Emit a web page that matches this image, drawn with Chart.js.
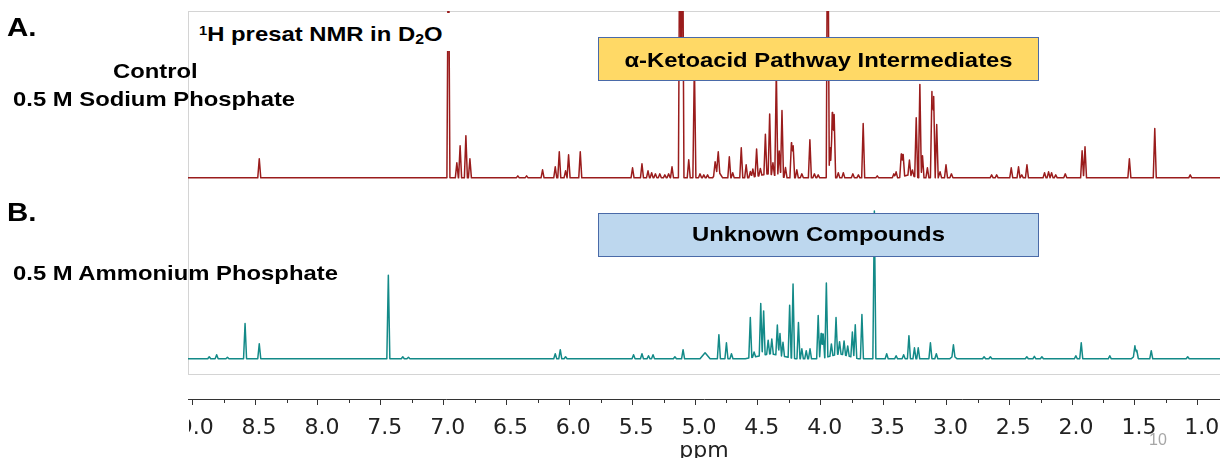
<!DOCTYPE html>
<html>
<head>
<meta charset="utf-8">
<script src="https://cdn.jsdelivr.net/npm/chart.js@4.4.1/dist/chart.umd.min.js"></script>
<style>
  html, body { margin: 0; padding: 0; background: #fff; }
  #wrap { position: relative; width: 1220px; height: 458px; overflow: hidden; }
  #nmrChart { position: absolute; left: 0; top: 0; }
  .lbl {
    position: absolute; white-space: nowrap; color: #000;
    font-family: 'Liberation Sans', Arial, sans-serif; font-weight: bold;
    font-size: 21px; line-height: 1;
    transform: scaleX(1.135); transform-origin: 0 0;
  }
  .caja { position: absolute; box-sizing: border-box; border: 1px solid #4a6aa8; }
  .centrado { text-align: center; transform-origin: 50% 0; }
  .sup { font-size: 13px; position: relative; top: -6px; }
  .sub { font-size: 14px; position: relative; top: 3px; }
  #slide { position: absolute; left: 1149px; top: 431px; font: 16px 'Liberation Sans', Arial, sans-serif; color: #a6a6a6; }
</style>
</head>
<body>
<div id="wrap">
  <canvas id="nmrChart" width="1220" height="458"></canvas>

  <!-- Etiquetas de las muestras -->
  <div class="lbl" style="left:7px; top:14px; font-size:26px;">A.</div>
  <div class="lbl" style="left:113px; top:60px;">Control</div>
  <div class="lbl" style="left:13px; top:88px;">0.5 M Sodium Phosphate</div>
  <div class="lbl" style="left:7px; top:199px; font-size:26px;">B.</div>
  <div class="lbl" style="left:13px; top:262px;">0.5 M Ammonium Phosphate</div>

  <!-- Título con fondo blanco (tapa el pico de 6.97) -->
  <div style="position:absolute; left:190px; top:13px; width:262px; height:38px; background:#fff;"></div>
  <div class="lbl" style="left:199px; top:23px;"><span class="sup">1</span>H presat NMR in D<span class="sub">2</span>O</div>

  <!-- Cajas de anotación -->
  <div class="caja" style="left:598px; top:37px; width:441px; height:44px; background:#ffd966;"></div>
  <div class="lbl centrado" style="left:598px; top:49px; width:441px;">α-Ketoacid Pathway Intermediates</div>
  <div class="caja" style="left:598px; top:213px; width:441px; height:44px; background:#bdd7ee;"></div>
  <div class="lbl centrado" style="left:598px; top:223px; width:441px;">Unknown Compounds</div>

  <div id="slide">10</div>
</div>

<script>
// Eje de desplazamiento químico (ppm), en orden ascendente como los genera Chart.js
const xTicks = [1.0, 1.5, 2.0, 2.5, 3.0, 3.5, 4.0, 4.5, 5.0, 5.5, 6.0, 6.5, 7.0, 7.5, 8.0, 8.5, 9.0];
const xMinorTicks = [1.25, 1.75, 2.25, 2.75, 3.25, 3.75, 4.25, 4.75, 5.25, 5.75, 6.25, 6.75, 7.25, 7.75, 8.25, 8.75];
const xMin = 0.823;
const xMax = 9.034;

// A. Control (fosfato sódico): posición del pico (ppm) e intensidad (u.a.)
const ctrlShift = [
  8.467, 6.962, 6.895, 6.869, 6.823, 6.791, 6.41, 6.34, 6.213, 6.112, 6.08, 6.03, 6.006, 5.913,
  5.497, 5.422, 5.374, 5.345, 5.315, 5.28, 5.24, 5.21, 5.183, 5.12, 5.10, 5.05, 5.005, 4.96, 4.93, 4.90,
  4.84, 4.815, 4.727, 4.70, 4.632, 4.593, 4.56, 4.54, 4.51, 4.48, 4.44, 4.406, 4.38, 4.353, 4.33, 4.308,
  4.28, 4.233, 4.219, 4.19, 4.15, 4.086, 4.05, 4.02, 3.944, 3.925, 3.908, 3.893, 3.86, 3.82, 3.744, 3.70,
  3.662, 3.55, 3.418, 3.40, 3.359, 3.344, 3.294, 3.27, 3.24, 3.211, 3.19, 3.151, 3.115, 3.101, 3.077,
  3.05, 3.003, 2.96, 2.64, 2.60, 2.484, 2.426, 2.40, 2.359, 2.219, 2.187, 2.163, 2.13, 2.054,
  1.92, 1.897, 1.544, 1.342, 1.06
];
const ctrlHeight = [
  19, 260, 15, 32, 42, 19, 2, 2, 8, 11, 26, 7, 23, 26,
  10, 14, 7, 5, 4, 4, 3, 4, 11, 300, 300, 18, 115, 4, 3, 3,
  12, 19, 21, 5, 30, 13, 6, 8, 27, 7, 40, 60, 12, 105, 25, 66,
  10, 35, 32, 8, 4, 38, 4, 3, 320, 30, 65, 63, 5, 5, 4, 3,
  54, 2, 4, 6, 23, 22, 15, 6, 59, 93, 22, 10, 86, 81, 53,
  6, 13, 4, 3, 3, 10, 11, 3, 13, 5, 6, 5, 3, 4,
  27, 31, 19, 49, 3
];
const ctrlHumpShift = [4.82, 4.42, 3.30];
const ctrlHumpHeight = [8, 4, 3];
const ctrlHumpWidth = [0.04, 0.15, 0.08];

// B. Fosfato amónico
const ammShift = [
  8.865, 8.806, 8.72, 8.58, 8.467, 7.44, 7.325, 7.28, 6.112, 6.072, 6.03, 5.489, 5.422, 5.37, 5.334,
  5.16, 5.095, 4.81, 4.75, 4.71, 4.56, 4.53, 4.477, 4.454, 4.418, 4.389, 4.345, 4.324, 4.30, 4.247,
  4.22, 4.177, 4.15, 4.115, 4.085, 4.02, 3.997, 3.98, 3.955, 3.915, 3.878, 3.85, 3.814, 3.785, 3.748,
  3.725, 3.672, 3.573, 3.475, 3.40, 3.34, 3.298, 3.254, 3.224, 3.127, 3.08, 2.944, 2.70, 2.65, 2.36,
  2.30, 2.24, 1.97, 1.927, 1.70, 1.50, 1.485, 1.37, 1.08
];
const ammHeight = [
  2, 4, 1.5, 35, 15, 83, 2, 1.5, 5, 9, 2, 4, 5, 3, 4,
  2, 9, 24, 16, 5, 40, 5, 52, 44, 14, 15, 30, 22, 14, 52,
  74, 36, 10, 8, 10, 43, 25, 24, 74, 12, 37, 12, 14, 10, 25,
  33, 44, 147, 5, 3, 4, 23, 11, 11, 16, 5, 11, 2, 2, 2,
  2.5, 2, 3, 16, 3, 10, 7, 8, 2
];
const ammHumpShift = [4.92, 4.40, 3.85, 2.944, 1.50];
const ammHumpHeight = [6, 5, 5, 3, 3];
const ammHumpWidth = [0.04, 0.2, 0.15, 0.03, 0.03];

const anchoPico = 0.012; // semi-anchura de cada línea (ppm)

// Construye la traza como suma de líneas triangulares estrechas
function construirTraza(pos, alt, humpPos, humpAlt, humpAncho) {
  const picos = pos.map((p, i) => ({ c: p, h: alt[i], w: anchoPico }))
    .concat(humpPos.map((p, i) => ({ c: p, h: humpAlt[i], w: humpAncho[i] })));
  let xs = [xMin, xMax];
  picos.forEach(pk => { xs.push(pk.c - pk.w, pk.c, pk.c + pk.w); });
  xs = Array.from(new Set(xs)).sort((a, b) => b - a);
  return xs.map(x => {
    let y = 0;
    picos.forEach(pk => {
      const d = Math.abs(x - pk.c);
      if (d < pk.w) y += pk.h * (1 - d / pk.w);
    });
    return { x: x, y: y };
  });
}

// Marco gris, marcas menores del eje y recorte de la primera etiqueta
const decoracion = {
  id: 'decoracion',
  beforeDatasetsDraw(chart) {
    const { ctx, chartArea } = chart;
    ctx.save();
    ctx.strokeStyle = '#d4d4d4';
    ctx.lineWidth = 1;
    ctx.strokeRect(chartArea.left + 0.5, chartArea.top + 0.5, chartArea.right + 10, chartArea.bottom - chartArea.top - 25);
    ctx.restore();
  },
  afterDraw(chart) {
    const { ctx, chartArea, scales } = chart;
    ctx.save();
    ctx.strokeStyle = '#333';
    ctx.lineWidth = 1;
    xMinorTicks.forEach(v => {
      const px = Math.round(scales.x.getPixelForValue(v)) + 0.5;
      ctx.beginPath();
      ctx.moveTo(px, chartArea.bottom);
      ctx.lineTo(px, chartArea.bottom + 4);
      ctx.stroke();
    });
    ctx.fillStyle = '#fff';
    ctx.fillRect(0, chartArea.bottom + 7, chartArea.left + 1, 32);
    ctx.restore();
  }
};

let nmrChart = null;

function crearGrafica() {
  const canvas = document.getElementById('nmrChart');
  nmrChart = new Chart(canvas, {
    type: 'line',
    data: {
      datasets: [
        {
          label: 'Control 0.5 M Sodium Phosphate',
          data: construirTraza(ctrlShift, ctrlHeight, ctrlHumpShift, ctrlHumpHeight, ctrlHumpWidth),
          yAxisID: 'yC',
          borderColor: '#9a1c1c',
          borderWidth: 1.5,
          borderJoinStyle: 'round',
          pointRadius: 0,
          tension: 0
        },
        {
          label: '0.5 M Ammonium Phosphate',
          data: construirTraza(ammShift, ammHeight, ammHumpShift, ammHumpHeight, ammHumpWidth),
          yAxisID: 'yA',
          borderColor: '#138a88',
          borderWidth: 1.5,
          borderJoinStyle: 'round',
          pointRadius: 0,
          tension: 0
        }
      ]
    },
    options: {
      responsive: false,
      animation: false,
      devicePixelRatio: 1,
      layout: { padding: { left: 188, top: 11, right: 0, bottom: 0 } },
      plugins: {
        legend: { display: false },
        tooltip: { enabled: false }
      },
      scales: {
        x: {
          type: 'linear',
          reverse: true,
          min: xMin,
          max: xMax,
          afterBuildTicks: (scale) => { scale.ticks = xTicks.map(v => ({ value: v })); },
          grid: { drawOnChartArea: false, tickLength: 6, tickColor: '#333' },
          border: { color: '#333', width: 1 },
          ticks: {
            autoSkip: false,
            maxRotation: 0,
            padding: 12,
            labelOffset: 4,
            color: '#222',
            font: { family: 'DejaVu Sans', size: 22, lineHeight: 1 },
            callback: (v) => Number(v).toFixed(1)
          },
          title: {
            display: true,
            text: 'ppm',
            color: '#222',
            font: { family: 'DejaVu Sans', size: 22, lineHeight: 1 },
            padding: { top: -11, bottom: -4 }
          }
        },
        yC: { display: false, min: -220, max: 166 },
        yA: { display: false, min: -40, max: 346 }
      }
    },
    plugins: [decoracion]
  });
}

window.addEventListener('DOMContentLoaded', () => {
  crearGrafica();
});
</script>
</body>
</html>
